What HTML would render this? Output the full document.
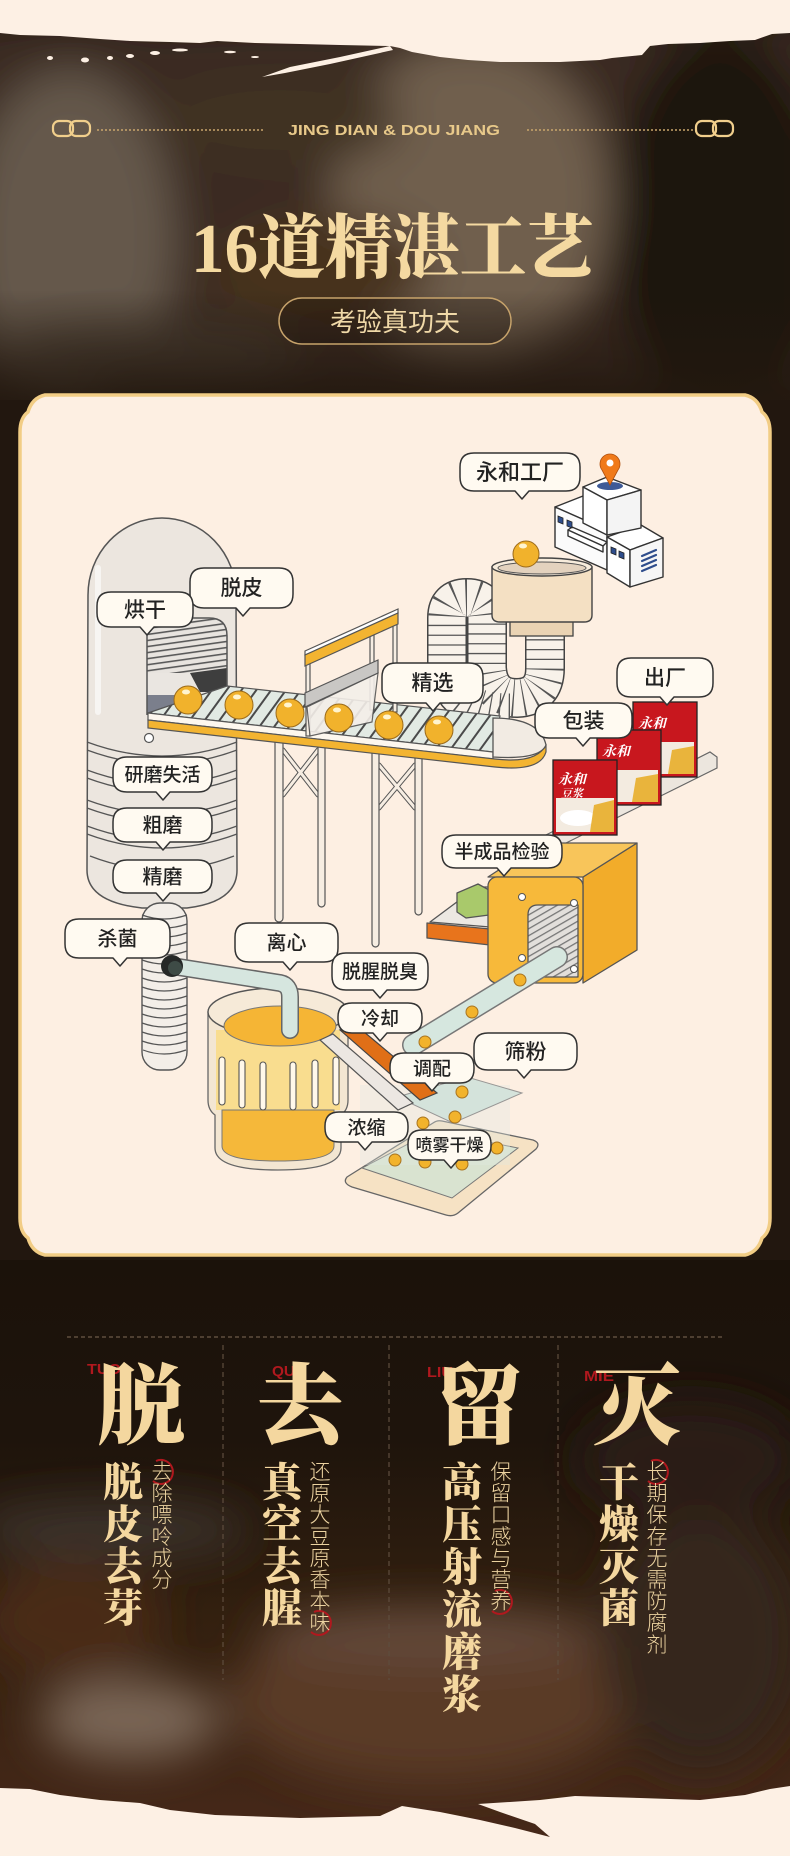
<!DOCTYPE html>
<html><head><meta charset="utf-8">
<style>
html,body{margin:0;padding:0;width:790px;height:1856px;overflow:hidden;background:#22170e;}
svg{display:block}
.lb{font-family:"Liberation Sans","Noto Sans CJK SC",sans-serif;font-weight:500;fill:#222;text-anchor:middle}
.bs{fill:#fffaf1;stroke:#333;stroke-width:1.5;stroke-linejoin:round}
.bk{font-family:"Liberation Serif","Noto Serif CJK SC",serif;font-weight:900;fill:#f4d79f;text-anchor:middle}
.sm{font-family:"Liberation Sans","Noto Sans CJK SC",sans-serif;font-weight:300;fill:#ecd3a0;text-anchor:middle}
</style></head><body>
<svg width="790" height="1856" viewBox="0 0 790 1856" xmlns="http://www.w3.org/2000/svg">
<defs>
  <filter id="bl" x="-50%" y="-50%" width="200%" height="200%"><feGaussianBlur stdDeviation="22"/></filter>
  <linearGradient id="fadeTop" x1="0" y1="0" x2="0" y2="1">
    <stop offset="0" stop-color="#23180f" stop-opacity="0"/>
    <stop offset="1" stop-color="#23180f" stop-opacity="0.85"/>
  </linearGradient>
  <linearGradient id="botBg" x1="0" y1="0" x2="0" y2="1">
    <stop offset="0" stop-color="#1b120a"/>
    <stop offset="0.3" stop-color="#1e140c"/>
    <stop offset="0.6" stop-color="#33200f"/>
    <stop offset="1" stop-color="#48291a"/>
  </linearGradient>
  <pattern id="bst" width="12" height="12" patternUnits="userSpaceOnUse" patternTransform="rotate(36)">
    <rect width="12" height="12" fill="#e2eae3"/><rect width="2" height="12" fill="#4a4a4a"/>
  </pattern>
  <pattern id="ost" width="6" height="6" patternUnits="userSpaceOnUse" patternTransform="rotate(-8)">
    <rect width="6" height="6" fill="#e8e4df"/><rect width="6" height="1.6" fill="#5a5a5a"/>
  </pattern>
  <pattern id="tst" width="6" height="6" patternUnits="userSpaceOnUse" patternTransform="rotate(-30)">
    <rect width="6" height="6" fill="#e2dfdb"/><rect width="6" height="1.3" fill="#777"/>
  </pattern>
  <clipPath id="ovenClip"><path d="M147,715 V636 Q147,618 167,618 H209 Q227,618 227,636 V715 Z"/></clipPath>
</defs>

<!-- ===== BACKGROUND ===== -->
<rect x="0" y="0" width="790" height="1856" fill="#22170e"/>
<g filter="url(#bl)">
  <rect x="-40" y="20" width="870" height="380" fill="#3a2c20"/>
  <ellipse cx="70" cy="240" rx="105" ry="170" fill="#65594c"/>
  <ellipse cx="470" cy="200" rx="140" ry="160" fill="#705e4d"/>
  <ellipse cx="280" cy="120" rx="120" ry="45" fill="#3f3024"/>
  <ellipse cx="320" cy="270" rx="110" ry="55" fill="#46321f"/>
  <ellipse cx="720" cy="230" rx="110" ry="200" fill="#1f150d"/>
  <ellipse cx="150" cy="360" rx="150" ry="35" fill="#4a3d31"/>
</g>
<rect x="0" y="290" width="790" height="110" fill="url(#fadeTop)"/>
<rect x="0" y="400" width="790" height="870" fill="#22170f"/>
<rect x="0" y="1260" width="790" height="596" fill="url(#botBg)"/>
<g filter="url(#bl)">
  <ellipse cx="110" cy="1530" rx="140" ry="30" fill="#3a3029"/>
  <ellipse cx="70" cy="1620" rx="90" ry="60" fill="#4a2a17"/>
  <ellipse cx="130" cy="1720" rx="90" ry="40" fill="#7a6657"/>
  <ellipse cx="430" cy="1700" rx="200" ry="85" fill="#5a3a26"/>
  <ellipse cx="430" cy="1635" rx="170" ry="28" fill="#63493a"/>
  <ellipse cx="700" cy="1640" rx="100" ry="130" fill="#36261b"/>
  <ellipse cx="690" cy="1460" rx="110" ry="60" fill="#2b1e14"/>
</g>

<!-- top cream brush edge -->
<path d="M0,0 H790 V33 L772,34 L755,40 L730,41 L700,43 L668,44 L650,46 L642,55 L612,58 L600,60 L560,62 L500,62 L468,60 L440,57 L412,52 L400,48 L390,46 L340,45 L300,44 L255,43 L217,41 L200,43 L170,42 L130,41 L100,39 L60,36 L20,35 L0,33 Z" fill="#fdf0e4"/>
<path d="M390,46 L340,57 L290,67 L262,77 L285,73 L330,64 L393,50 Z" fill="#fdf0e4"/>
<g fill="#fdf0e4">
  <ellipse cx="50" cy="58" rx="3" ry="2"/><ellipse cx="85" cy="60" rx="4" ry="2.5"/><ellipse cx="110" cy="58" rx="3" ry="2"/>
  <ellipse cx="130" cy="56" rx="4" ry="2"/><ellipse cx="155" cy="53" rx="5" ry="2"/><ellipse cx="180" cy="50" rx="8" ry="1.5"/>
  <ellipse cx="230" cy="52" rx="6" ry="1.2"/><ellipse cx="255" cy="57" rx="4" ry="1"/>
</g>
<!-- bottom cream brush edge -->
<path d="M0,1856 V1788 L30,1789 L60,1795 L100,1800 L140,1803 L170,1810 L215,1815 L300,1818 L380,1816 L402,1806 L440,1812 L480,1820 L515,1828 L550,1837 L535,1824 L500,1812 L478,1804 L540,1800 L575,1796 L640,1798 L700,1800 L745,1795 L770,1789 L790,1786 V1856 Z" fill="#fdf0e4"/>

<!-- ===== HEADER ===== -->
<g fill="none" stroke="#f1cf8c" stroke-width="2.2">
  <rect x="53" y="121" width="20" height="15" rx="6"/><rect x="70" y="121" width="20" height="15" rx="6"/>
  <rect x="696" y="121" width="20" height="15" rx="6"/><rect x="713" y="121" width="20" height="15" rx="6"/>
</g>
<g stroke="#c9a66d" stroke-width="1.5" stroke-dasharray="2 2">
  <line x1="97" y1="130" x2="263" y2="130"/><line x1="527" y1="130" x2="693" y2="130"/>
</g>
<text x="288" y="135" textLength="212" lengthAdjust="spacingAndGlyphs" font-family="Liberation Sans, sans-serif" font-weight="bold" font-size="15" fill="#e8c98a">JING DIAN &amp; DOU JIANG</text>
<text x="191" y="272" textLength="403" lengthAdjust="spacingAndGlyphs" font-family="Liberation Serif, Noto Serif CJK SC, serif" font-weight="900" font-size="70" fill="#f4d9a1">16道精湛工艺</text>
<rect x="279" y="298" width="232" height="46" rx="23" fill="rgba(20,12,6,0.25)" stroke="#c7a36b" stroke-width="1.5"/>
<text x="395" y="331" text-anchor="middle" font-family="Liberation Sans, Noto Sans CJK SC, sans-serif" font-size="26" fill="#f0d9a8">考验真功夫</text>

<!-- ===== PANEL ===== -->
<path d="M45,395 H745 Q758,398 762,412 Q770,418 770,432 V1218 Q770,1232 762,1238 Q758,1252 745,1255 H45 Q32,1252 28,1238 Q20,1232 20,1218 V432 Q20,418 28,412 Q32,398 45,395 Z" fill="#fdefe2" stroke="#f2cd85" stroke-width="3.5"/>

<!-- coil tube -->
<path d="M510,712 Q450,712 447,665 L447,618 Q447,598 467,598 Q487,598 487,618 L487,668 Q489,698 517,698 Q545,697 545,668 L545,632" fill="none" stroke="#444" stroke-width="40"/>
<path d="M510,712 Q450,712 447,665 L447,618 Q447,598 467,598 Q487,598 487,618 L487,668 Q489,698 517,698 Q545,697 545,668 L545,632" fill="none" stroke="#f8f2ea" stroke-width="37"/>
<path d="M510,712 Q450,712 447,665 L447,618 Q447,598 467,598 Q487,598 487,618 L487,668 Q489,698 517,698 Q545,697 545,668 L545,632" fill="none" stroke="#555" stroke-width="37" stroke-dasharray="1.3 8.5"/>

<!-- hopper -->
<rect x="510" y="618" width="63" height="18" fill="#ead3b3" stroke="#444" stroke-width="1.3"/>
<path d="M492,567 L492,615 Q492,622 500,622 L584,622 Q592,622 592,615 L592,567 Z" fill="#f4e0c3" stroke="#444" stroke-width="1.4"/>
<ellipse cx="542" cy="567" rx="50" ry="9" fill="#f7ecdc" stroke="#444" stroke-width="1.4"/>
<ellipse cx="542" cy="568" rx="44" ry="6" fill="#e3d2be" stroke="#555" stroke-width="1"/>
<circle cx="526" cy="554" r="13" fill="#f1b22c" stroke="#9b6a1a"/>
<ellipse cx="523" cy="546" rx="4" ry="2.5" fill="#fff4cf"/>

<!-- factory -->
<g stroke="#333" stroke-width="1.4" stroke-linejoin="round">
  <polygon points="555,507 583,496 607,506 607,530" fill="#fff"/>
  <polygon points="555,507 607,530 607,570 555,547" fill="#fbfbfb"/>
  <polygon points="607,537 641,525 663,538 630,550" fill="#fff"/>
  <polygon points="607,537 630,550 630,587 607,573" fill="#fff"/>
  <polygon points="630,550 663,538 663,577 630,587" fill="#f6f6f6"/>
  <polygon points="583,487 607,477 641,490 607,500" fill="#fff"/>
  <polygon points="583,487 607,500 607,535 583,523" fill="#fff"/>
  <polygon points="607,500 641,490 641,528 607,535" fill="#f4f4f4"/>
  <polygon points="568,530 572,527 607,542 603,546" fill="#fff"/>
  <polygon points="568,530 603,546 603,552 568,536" fill="#fff"/>
</g>
<g fill="#2e4d8c" stroke="#222" stroke-width="0.8">
  <polygon points="558,516 563,518 563,524 558,522"/><polygon points="567,520 572,522 572,528 567,526"/>
  <polygon points="611,547 616,549 616,555 611,553"/><polygon points="619,551 624,553 624,559 619,557"/>
</g>
<g stroke="#2e4d8c" stroke-width="2.2" stroke-linecap="round">
  <line x1="642" y1="556" x2="656" y2="550"/><line x1="642" y1="561" x2="656" y2="555"/>
  <line x1="642" y1="566" x2="656" y2="560"/><line x1="642" y1="571" x2="656" y2="565"/>
</g>
<ellipse cx="610" cy="486" rx="13" ry="4" fill="#3e5a97"/>
<path d="M610,485 L602,470 A10,10 0 1 1 618,470 Z" fill="#f07a1a" stroke="#b0500f" stroke-width="0.8"/>
<circle cx="610" cy="463" r="3.5" fill="#fff"/>

<!-- tower -->
<path d="M88,595 A74,77 0 0 1 236,595 L237,870 Q237,902 187,908 L142,908 Q87,902 87,870 Z" fill="#ece6df" stroke="#555" stroke-width="1.5"/>
<rect x="95" y="565" width="6" height="150" rx="3" fill="#fff" opacity="0.6"/>
<g fill="none" stroke="#555" stroke-width="1.3">
  <path d="M87,742 Q162,770 237,742"/><path d="M87,750 Q162,778 237,750"/>
  <path d="M87,770 Q162,798 237,770"/><path d="M87,778 Q162,806 237,778"/>
  <path d="M87,800 Q162,828 237,800"/><path d="M87,808 Q162,836 237,808"/>
  <path d="M87,826 Q162,854 237,826"/><path d="M87,834 Q162,862 237,834"/>
  <path d="M90,856 Q162,884 234,856"/>
</g>
<circle cx="149" cy="738" r="4.5" fill="#fff" stroke="#555" stroke-width="1.2"/>

<!-- spring coil -->
<rect x="142" y="903" width="45" height="167" rx="18" fill="#f3eee8" stroke="#555" stroke-width="1.4"/>
<g fill="none" stroke="#555" stroke-width="1.2">
  <path d="M142,915 Q164,923 187,915"/><path d="M142,924 Q164,932 187,924"/><path d="M142,933 Q164,941 187,933"/>
  <path d="M142,942 Q164,950 187,942"/><path d="M142,951 Q164,959 187,951"/><path d="M142,960 Q164,968 187,960"/>
  <path d="M142,969 Q164,977 187,969"/><path d="M142,978 Q164,986 187,978"/><path d="M142,987 Q164,995 187,987"/>
  <path d="M142,996 Q164,1004 187,996"/><path d="M142,1005 Q164,1013 187,1005"/><path d="M142,1014 Q164,1022 187,1014"/>
  <path d="M142,1023 Q164,1031 187,1023"/><path d="M142,1032 Q164,1040 187,1032"/><path d="M142,1041 Q164,1049 187,1041"/>
  <path d="M143,1050 Q164,1058 186,1050"/>
</g>

<!-- oven opening -->
<g clip-path="url(#ovenClip)">
  <rect x="140" y="610" width="95" height="110" fill="#eae6e1"/>
  <rect x="140" y="615" width="95" height="58" fill="url(#ost)"/>
  <polygon points="190,673 227,668 227,692 200,692" fill="#3e3e3e"/>
  <rect x="147" y="695" width="30" height="20" fill="#7b7f8c"/>
</g>
<path d="M147,715 V636 Q147,618 167,618 H209 Q227,618 227,636 V715" fill="none" stroke="#555" stroke-width="1.5"/>

<!-- legs -->
<g stroke="#555" stroke-width="5" stroke-linecap="round">
  <line x1="283" y1="750" x2="318" y2="795"/><line x1="318" y1="750" x2="283" y2="795"/>
  <line x1="379" y1="765" x2="415" y2="808"/><line x1="415" y1="765" x2="379" y2="808"/>
</g>
<g stroke="#f6ede2" stroke-width="3" stroke-linecap="round">
  <line x1="283" y1="750" x2="318" y2="795"/><line x1="318" y1="750" x2="283" y2="795"/>
  <line x1="379" y1="765" x2="415" y2="808"/><line x1="415" y1="765" x2="379" y2="808"/>
</g>
<g fill="#f6ede2" stroke="#555" stroke-width="1.2">
  <rect x="275" y="735" width="8" height="187" rx="4"/>
  <rect x="318" y="735" width="7" height="172" rx="3.5"/>
  <rect x="372" y="745" width="7" height="202" rx="3.5"/>
  <rect x="415" y="745" width="7" height="170" rx="3.5"/>
</g>

<!-- belt -->
<polygon points="148,713 227,686 500,716 493,752" fill="url(#bst)" stroke="#555" stroke-width="1.2"/>
<polygon points="148,713 493,752 493,759 148,720" fill="#fdf7ee" stroke="#555" stroke-width="1.2"/>
<path d="M148,720 L495,759 Q538,764 546,744 L546,752 Q540,772 495,767 L148,728 Z" fill="#f3b431" stroke="#555" stroke-width="1.2"/>
<path d="M493,718 Q540,718 546,745 Q540,760 493,757 Z" fill="#f2ebe3" stroke="#555" stroke-width="1.3"/>

<!-- sorter gate -->
<g stroke="#555" stroke-width="1.2">
  <rect x="306" y="652" width="4" height="84" fill="#f6ede2"/>
  <rect x="370" y="622" width="4" height="88" fill="#f6ede2"/>
  <rect x="393" y="612" width="4" height="100" fill="#f6ede2"/>
  <polygon points="305,651 398,609 398,613 305,655" fill="#fff"/>
  <polygon points="305,655 398,613 398,624 305,666" fill="#f3b431"/>
  <polygon points="307,707 378,673 372,722 310,736" fill="#f4efe9" opacity="0.9"/>
  <polygon points="305,693 378,660 378,673 305,707" fill="#c9c7c4"/>
</g>

<!-- balls -->
<g stroke="#9b6a1a" stroke-width="1" fill="#f1b22c">
  <circle cx="188" cy="700" r="14"/><circle cx="239" cy="705" r="14"/><circle cx="290" cy="713" r="14"/>
  <circle cx="339" cy="718" r="14"/><circle cx="389" cy="725" r="14"/><circle cx="439" cy="730" r="14"/>
</g>
<g fill="#fff4cf">
  <ellipse cx="186" cy="692" rx="4" ry="2.5"/><ellipse cx="237" cy="697" rx="4" ry="2.5"/><ellipse cx="288" cy="705" rx="4" ry="2.5"/>
  <ellipse cx="337" cy="710" rx="4" ry="2.5"/><ellipse cx="387" cy="717" rx="4" ry="2.5"/><ellipse cx="437" cy="722" rx="4" ry="2.5"/>
</g>

<!-- shelf & packages -->
<polygon points="540,838 710,752 717,757 717,768 560,846" fill="#ece6de" stroke="#666" stroke-width="1.2"/>
<g>
  <rect x="633" y="702" width="64" height="75" fill="#c8171e" stroke="#222" stroke-width="1.3"/>
  <rect x="636" y="742" width="58" height="32" fill="#f3ebe0"/>
  <polygon points="672,750 694,746 694,774 668,774" fill="#e9b43c"/>
  <text x="652" y="728" font-family="Liberation Serif, Noto Serif CJK SC, serif" font-style="italic" font-weight="700" font-size="14" fill="#fff" text-anchor="middle">永和</text>
  <rect x="597" y="730" width="64" height="75" fill="#c8171e" stroke="#222" stroke-width="1.3"/>
  <rect x="600" y="770" width="58" height="32" fill="#f3ebe0"/>
  <polygon points="636,778 658,774 658,802 632,802" fill="#e9b43c"/>
  <text x="616" y="756" font-family="Liberation Serif, Noto Serif CJK SC, serif" font-style="italic" font-weight="700" font-size="14" fill="#fff" text-anchor="middle">永和</text>
  <rect x="553" y="760" width="64" height="75" fill="#c8171e" stroke="#222" stroke-width="1.3"/>
  <rect x="556" y="798" width="58" height="34" fill="#f3ebe0"/>
  <ellipse cx="578" cy="818" rx="18" ry="8" fill="#fff"/>
  <polygon points="594,805 614,800 614,832 590,832" fill="#e9b43c"/>
  <text x="572" y="784" font-family="Liberation Serif, Noto Serif CJK SC, serif" font-style="italic" font-weight="700" font-size="14" fill="#fff" text-anchor="middle">永和</text>
  <text x="572" y="797" font-family="Liberation Serif, Noto Serif CJK SC, serif" font-style="italic" font-weight="700" font-size="11" fill="#fff" text-anchor="middle">豆浆</text>
</g>

<!-- inspection machine -->
<g stroke="#555" stroke-width="1.3" stroke-linejoin="round">
  <polygon points="430,922 477,887 490,887 490,927" fill="#ece8e2"/>
  <polygon points="427,923 490,929 490,945 427,938" fill="#e8741c"/>
  <polygon points="457,893 478,884 489,890 489,915 466,918 457,912" fill="#a9c96b"/>
  <polygon points="583,877 637,843 637,950 583,983" fill="#f2ac2a"/>
  <polygon points="488,877 540,843 637,843 583,877" fill="#f8c55a"/>
  <rect x="488" y="877" width="95" height="106" rx="9" fill="#f7b93a"/>
  <path d="M528,977 V915 Q528,905 538,905 H578 V977 Z" fill="url(#tst)"/>
</g>
<g fill="#fff" stroke="#555" stroke-width="1">
  <circle cx="522" cy="897" r="3.5"/><circle cx="574" cy="903" r="3.5"/>
  <circle cx="522" cy="958" r="3.5"/><circle cx="574" cy="969" r="3.5"/>
</g>

<!-- spray dryer tray -->
<path d="M347,1177 L433,1123 Q437,1120 442,1121 L533,1140 Q541,1143 536,1149 L458,1213 Q453,1217 446,1215 L352,1187 Q342,1183 347,1177 Z" fill="#f6e2c4" stroke="#666" stroke-width="1.3"/>
<path d="M362,1168 L433,1131 L518,1148 L452,1198 Z" fill="#d9e3d0" stroke="#777" stroke-width="1"/>
<rect x="360" y="1085" width="150" height="80" fill="#dfe9e3" opacity="0.35"/>

<!-- glass tube & sieve -->
<line x1="557" y1="957" x2="413" y2="1045" stroke="#777" stroke-width="22" stroke-linecap="round"/>
<line x1="557" y1="957" x2="413" y2="1045" stroke="#d6e7df" stroke-width="19" stroke-linecap="round"/>
<polygon points="397,1097 467,1077 522,1093 453,1123" fill="#cfe2da" opacity="0.85" stroke="#888" stroke-width="1"/>

<!-- centrifuge -->
<path d="M208,1012 L208,1100 Q208,1110 215,1115 L215,1148 Q215,1170 278,1170 Q341,1170 341,1148 L341,1115 Q348,1110 348,1100 L348,1012 Z" fill="#f3e6d2" stroke="#666" stroke-width="1.3"/>
<rect x="216" y="1030" width="124" height="80" fill="#f9dd8f"/>
<path d="M222,1110 L222,1146 Q222,1161 278,1161 Q334,1161 334,1146 L334,1110 Z" fill="#f5b83a" stroke="#777" stroke-width="1"/>
<g fill="#fff8ea" stroke="#555" stroke-width="1.1">
  <rect x="219" y="1057" width="6" height="48" rx="3"/><rect x="239" y="1060" width="6" height="48" rx="3"/>
  <rect x="260" y="1062" width="6" height="48" rx="3"/><rect x="290" y="1062" width="6" height="48" rx="3"/>
  <rect x="312" y="1060" width="6" height="48" rx="3"/><rect x="333" y="1057" width="6" height="48" rx="3"/>
</g>
<ellipse cx="278" cy="1012" rx="70" ry="24" fill="#f6ead8" stroke="#555" stroke-width="1.4"/>
<ellipse cx="280" cy="1026" rx="56" ry="20" fill="#f5b535" stroke="#777" stroke-width="1"/>

<!-- chutes -->
<polygon points="320,1040 333,1034 413,1103 398,1110" fill="#ece7e2" stroke="#555" stroke-width="1.2"/>
<polygon points="340,1030 357,1026 437,1093 420,1100" fill="#e06f17" stroke="#444" stroke-width="1.2"/>

<!-- dots -->
<g fill="#f2b32c" stroke="#a87420" stroke-width="1">
  <circle cx="520" cy="980" r="6"/><circle cx="472" cy="1012" r="6"/><circle cx="425" cy="1042" r="6"/>
  <circle cx="462" cy="1092" r="6"/><circle cx="455" cy="1117" r="6"/><circle cx="423" cy="1123" r="6"/>
  <circle cx="395" cy="1160" r="6"/><circle cx="425" cy="1162" r="6"/><circle cx="462" cy="1164" r="6"/>
  <circle cx="497" cy="1148" r="6"/>
</g>

<!-- glass pipe from tower -->
<path d="M172,966 L280,983 Q290,985 290,997 L290,1030" fill="none" stroke="#666" stroke-width="18" stroke-linecap="round" stroke-linejoin="round"/>
<path d="M172,966 L280,983 Q290,985 290,997 L290,1030" fill="none" stroke="#d6e6df" stroke-width="15" stroke-linecap="round" stroke-linejoin="round"/>
<circle cx="172" cy="966" r="11" fill="#252827"/>
<circle cx="175" cy="968" r="7" fill="#3e4b46"/>

<!-- ===== BUBBLES ===== -->
<g class="bs">
<path d="M474,453 H566 Q580,453 580,467 V477 Q580,491 566,491 H529 L522,499 L515,491 H474 Q460,491 460,477 V467 Q460,453 474,453 Z"/>
<path d="M204,568 H279 Q293,568 293,582 V594 Q293,608 279,608 H250 L243,616 L236,608 H204 Q190,608 190,594 V582 Q190,568 204,568 Z"/>
<path d="M111,592 H179 Q193,592 193,606 V613 Q193,627 179,627 H154 L147,635 L140,627 H111 Q97,627 97,613 V606 Q97,592 111,592 Z"/>
<path d="M396,663 H469 Q483,663 483,677 V689 Q483,703 469,703 H440 L433,711 L426,703 H396 Q382,703 382,689 V677 Q382,663 396,663 Z"/>
<path d="M631,658 H699 Q713,658 713,672 V683 Q713,697 699,697 H674 L667,705 L660,697 H631 Q617,697 617,683 V672 Q617,658 631,658 Z"/>
<path d="M549,703 H618 Q632,703 632,717 V724 Q632,738 618,738 H590 L583,746 L576,738 H549 Q535,738 535,724 V717 Q535,703 549,703 Z"/>
<path d="M127,757 H198 Q212,757 212,771 V778 Q212,792 198,792 H170 L163,800 L156,792 H127 Q113,792 113,778 V771 Q113,757 127,757 Z"/>
<path d="M127,808 H198 Q212,808 212,822 V828 Q212,842 198,842 H170 L163,850 L156,842 H127 Q113,842 113,828 V822 Q113,808 127,808 Z"/>
<path d="M127,860 H198 Q212,860 212,874 V879 Q212,893 198,893 H170 L163,901 L156,893 H127 Q113,893 113,879 V874 Q113,860 127,860 Z"/>
<path d="M79,919 H156 Q170,919 170,933 V944 Q170,958 156,958 H127 L120,966 L113,958 H79 Q65,958 65,944 V933 Q65,919 79,919 Z"/>
<path d="M249,923 H324 Q338,923 338,937 V948 Q338,962 324,962 H297 L290,970 L283,962 H249 Q235,962 235,948 V937 Q235,923 249,923 Z"/>
<path d="M456,835 H548 Q562,835 562,849 V854 Q562,868 548,868 H511 L504,876 L497,868 H456 Q442,868 442,854 V849 Q442,835 456,835 Z"/>
<path d="M346,953 H414 Q428,953 428,967 V976 Q428,990 414,990 H387 L380,998 L373,990 H346 Q332,990 332,976 V967 Q332,953 346,953 Z"/>
<path d="M352,1003 H408 Q422,1003 422,1017 V1019 Q422,1033 408,1033 H387 L380,1041 L373,1033 H352 Q338,1033 338,1019 V1017 Q338,1003 352,1003 Z"/>
<path d="M404,1053 H460 Q474,1053 474,1067 V1069 Q474,1083 460,1083 H439 L432,1091 L425,1083 H404 Q390,1083 390,1069 V1067 Q390,1053 404,1053 Z"/>
<path d="M488,1033 H563 Q577,1033 577,1047 V1056 Q577,1070 563,1070 H531 L524,1078 L517,1070 H488 Q474,1070 474,1056 V1047 Q474,1033 488,1033 Z"/>
<path d="M339,1112 H394 Q408,1112 408,1126 V1128 Q408,1142 394,1142 H372 L365,1150 L358,1142 H339 Q325,1142 325,1128 V1126 Q325,1112 339,1112 Z"/>
<path d="M422,1130 H477 Q491,1130 491,1144 V1146 Q491,1160 477,1160 H458 L451,1168 L444,1160 H422 Q408,1160 408,1146 V1144 Q408,1130 422,1130 Z"/>
</g>
<g class="lb">
<text x="520" y="480" font-size="22">永和工厂</text>
<text x="241.5" y="595" font-size="21">脱皮</text>
<text x="145" y="617" font-size="21">烘干</text>
<text x="432.5" y="690" font-size="21">精选</text>
<text x="665" y="685" font-size="21">出厂</text>
<text x="583.5" y="728" font-size="21">包装</text>
<text x="162.5" y="781" font-size="19">研磨失活</text>
<text x="162.5" y="832" font-size="20">粗磨</text>
<text x="162.5" y="883.5" font-size="20">精磨</text>
<text x="117.5" y="945.5" font-size="20">杀菌</text>
<text x="286.5" y="949.5" font-size="20">离心</text>
<text x="502" y="858" font-size="19">半成品检验</text>
<text x="380" y="978" font-size="19">脱腥脱臭</text>
<text x="380" y="1025" font-size="19">冷却</text>
<text x="432" y="1075" font-size="19">调配</text>
<text x="525.5" y="1059" font-size="21">筛粉</text>
<text x="366.5" y="1134" font-size="19">浓缩</text>
<text x="449.5" y="1151" font-size="17">喷雾干燥</text>
</g>

<!-- ===== BOTTOM SECTION ===== -->
<line x1="67" y1="1337" x2="725" y2="1337" stroke="#6d5a48" stroke-width="1.2" stroke-dasharray="4 3"/>
<g stroke="#5e4d3e" stroke-width="1.2" stroke-dasharray="5 4">
  <line x1="223" y1="1345" x2="223" y2="1680"/>
  <line x1="389" y1="1345" x2="389" y2="1680"/>
  <line x1="558" y1="1345" x2="558" y2="1680"/>
</g>
<g font-family="Liberation Sans, sans-serif" font-weight="bold" font-size="15" fill="#b0181e">
  <text x="87" y="1374" textLength="34" lengthAdjust="spacingAndGlyphs">TUO</text>
  <text x="272" y="1376" textLength="23" lengthAdjust="spacingAndGlyphs">QU</text>
  <text x="427" y="1377" textLength="26" lengthAdjust="spacingAndGlyphs">LIU</text>
  <text x="584" y="1381" textLength="30" lengthAdjust="spacingAndGlyphs">MIE</text>
</g>
<g class="bk" font-size="88">
  <text x="141" y="1437">脱</text><text x="300" y="1437">去</text>
  <text x="479" y="1437">留</text><text x="637" y="1437">灭</text>
</g>
<g class="bk" font-size="40">
  <text><tspan x="123" y="1496">脱</tspan><tspan x="123" y="1538">皮</tspan><tspan x="123" y="1580">去</tspan><tspan x="123" y="1622">芽</tspan></text>
  <text><tspan x="282" y="1496">真</tspan><tspan x="282" y="1538">空</tspan><tspan x="282" y="1580">去</tspan><tspan x="282" y="1622">腥</tspan></text>
  <text><tspan x="462" y="1496">高</tspan><tspan x="462" y="1538.5">压</tspan><tspan x="462" y="1581">射</tspan><tspan x="462" y="1623.5">流</tspan><tspan x="462" y="1666">磨</tspan><tspan x="462" y="1708.5">浆</tspan></text>
  <text><tspan x="619" y="1496">干</tspan><tspan x="619" y="1538">燥</tspan><tspan x="619" y="1580">灭</tspan><tspan x="619" y="1622">菌</tspan></text>
</g>
<g fill="none" stroke="#b0181e" stroke-width="2">
  <path d="M156,1461 A12,12 0 1 1 153,1481"/>
  <path d="M314,1612 A12,12 0 1 1 311,1632"/>
  <path d="M495,1591 A12,12 0 1 1 492,1611"/>
  <path d="M651,1461 A12,12 0 1 1 648,1481"/>
</g>
<g class="sm" font-size="21">
  <text><tspan x="162" y="1479">去</tspan><tspan x="162" y="1500.6">除</tspan><tspan x="162" y="1522.2">嘌</tspan><tspan x="162" y="1543.8">呤</tspan><tspan x="162" y="1565.4">成</tspan><tspan x="162" y="1587">分</tspan></text>
  <text><tspan x="320" y="1479">还</tspan><tspan x="320" y="1500.6">原</tspan><tspan x="320" y="1522.2">大</tspan><tspan x="320" y="1543.8">豆</tspan><tspan x="320" y="1565.4">原</tspan><tspan x="320" y="1587">香</tspan><tspan x="320" y="1608.6">本</tspan><tspan x="320" y="1630.2">味</tspan></text>
  <text><tspan x="501" y="1479">保</tspan><tspan x="501" y="1500.6">留</tspan><tspan x="501" y="1522.2">口</tspan><tspan x="501" y="1543.8">感</tspan><tspan x="501" y="1565.4">与</tspan><tspan x="501" y="1587">营</tspan><tspan x="501" y="1608.6">养</tspan></text>
  <text><tspan x="657" y="1479">长</tspan><tspan x="657" y="1500.6">期</tspan><tspan x="657" y="1522.2">保</tspan><tspan x="657" y="1543.8">存</tspan><tspan x="657" y="1565.4">无</tspan><tspan x="657" y="1587">需</tspan><tspan x="657" y="1608.6">防</tspan><tspan x="657" y="1630.2">腐</tspan><tspan x="657" y="1651.8">剂</tspan></text>
</g>
</svg>
</body></html>
